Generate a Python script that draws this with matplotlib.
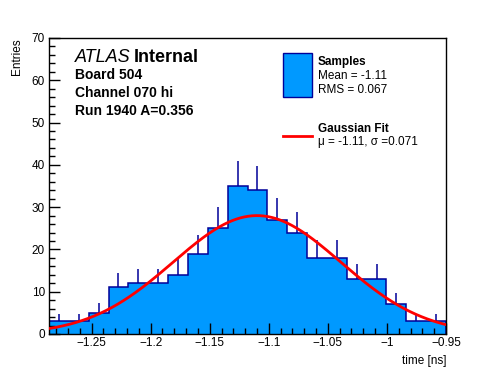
"""ROOT-style timing histogram with Gaussian fit."""

import matplotlib
matplotlib.use("Agg")
import matplotlib.pyplot as plt
import numpy as np
from matplotlib.lines import Line2D
from matplotlib.patches import Rectangle
from matplotlib.ticker import FuncFormatter, MultipleLocator

# histogram: 20 equal bins over the visible x range
X_MIN, X_MAX, N_BINS = -1.286, -0.950, 20
counts = [3, 3, 5, 11, 12, 12, 14, 19, 25, 35, 34, 27, 24, 18, 18, 13, 13, 7, 3, 3]

# gaussian fit parameters
fit_amp = 28.0
fit_mu = -1.11
fit_sigma = 0.071

info_lines = ["Board 504", "Channel 070 hi", "Run 1940 A=0.356"]

FILL = "#0099ff"
EDGE = "#000099"
W, H = 496, 372

plt.rcParams["font.family"] = ["Liberation Sans", "DejaVu Sans"]


def fx(px):
    return px / W


def fy(py):
    return 1 - py / H


fig = plt.figure(figsize=(W / 100, H / 100), dpi=100)
ax = fig.add_axes([fx(49), fy(334), (446 - 49) / W, (334 - 38) / H])

edges = np.linspace(X_MIN, X_MAX, N_BINS + 1)
vals = np.array(counts, dtype=float)
centers = 0.5 * (edges[:-1] + edges[1:])

ax.stairs(vals, edges, fill=True, color=FILL, zorder=1)
ax.stairs(vals, edges, baseline=0, color=EDGE, lw=1.1, zorder=2)
ax.vlines(centers, vals, vals + np.sqrt(vals), color=EDGE, lw=1.1, zorder=2)

xs = np.linspace(X_MIN, X_MAX, 400)
ax.plot(xs, fit_amp * np.exp(-0.5 * ((xs - fit_mu) / fit_sigma) ** 2),
        color="red", lw=2, zorder=3)

ax.set_xlim(X_MIN, X_MAX)
ax.set_ylim(0, 70)
ax.xaxis.set_major_locator(MultipleLocator(0.05))
ax.xaxis.set_minor_locator(MultipleLocator(0.01))
ax.yaxis.set_major_locator(MultipleLocator(10))
ax.yaxis.set_minor_locator(MultipleLocator(2))
ax.xaxis.set_major_formatter(FuncFormatter(lambda v, _: f"{v:g}".replace("-", "\u2212")))
ax.tick_params(which="both", direction="in", top=False, right=False,
               labelsize=8.5, width=1, colors="black")
ax.tick_params(which="major", length=8, pad=3)
ax.tick_params(axis="x", which="major", pad=2)
ax.tick_params(which="minor", length=4)
for s in ax.spines.values():
    s.set_linewidth(1)

fig.text(fx(446), fy(361), "time [ns]", ha="right", va="center", fontsize=8.5)
fig.text(fx(17), fy(38), "Entries", rotation=90, ha="center", va="top", fontsize=8.5)

# ATLAS label block
fig.text(fx(75), fy(62), "ATLAS", fontsize=13, style="italic", va="baseline")
fig.text(fx(134), fy(62), "Internal", fontsize=13, weight="bold", va="baseline")
for i, line in enumerate(info_lines):
    fig.text(fx(75), fy(79 + 18 * i), line, fontsize=10, weight="bold", va="baseline")

# legend drawn by hand, ROOT style
fig.patches.append(Rectangle((fx(283), fy(97)), (312 - 283) / W, (97 - 53) / H,
                             transform=fig.transFigure, facecolor=FILL,
                             edgecolor=EDGE, lw=1))
fig.text(fx(318), fy(65), "Samples", fontsize=8.5, weight="bold", va="baseline")
fig.text(fx(318), fy(79), "Mean = -1.11", fontsize=8.5, va="baseline")
fig.text(fx(318), fy(93), "RMS = 0.067", fontsize=8.5, va="baseline")
fig.lines.append(Line2D([fx(283), fx(312)], [fy(136), fy(136)],
                        transform=fig.transFigure, color="red", lw=2))
fig.text(fx(318), fy(132), "Gaussian Fit", fontsize=8.5, weight="bold", va="baseline")
fig.text(fx(318), fy(145), f"\u03bc = {fit_mu}, \u03c3 ={fit_sigma}",
         fontsize=8.5, va="baseline")

fig.savefig("out.png", dpi=100)
